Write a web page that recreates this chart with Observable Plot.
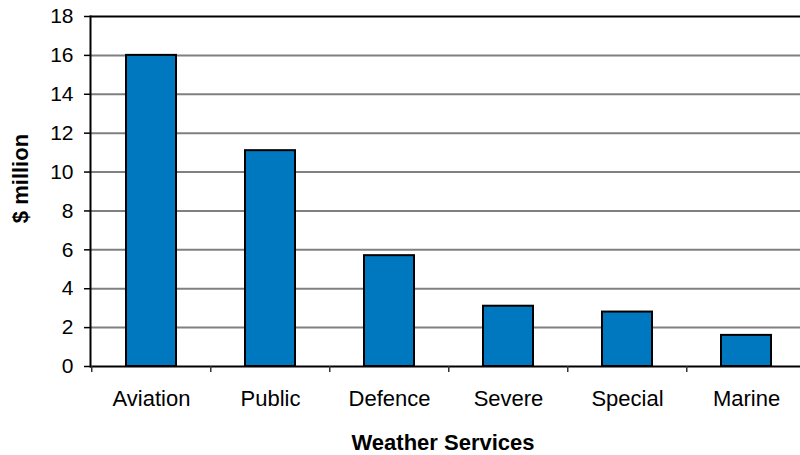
<!DOCTYPE html>
<html>
<head>
<meta charset="utf-8">
<script src="https://cdn.jsdelivr.net/npm/d3@7"></script>
<script src="https://cdn.jsdelivr.net/npm/@observablehq/plot@0.6"></script>
<style>
  html, body { margin: 0; padding: 0; background: #fff; }
</style>
</head>
<body>
<div id="chart"></div>
<script>
// Spending by weather service, in $ million
const services = ["Aviation", "Public", "Defence", "Severe", "Special", "Marine"];
const spending = [16.0, 11.1, 5.7, 3.1, 2.8, 1.6];
const yTicks = [0, 2, 4, 6, 8, 10, 12, 14, 16, 18];
const xTitle = "Weather Services";
const yTitle = "$ million";

const rows = services.map((service, i) => ({service, value: spending[i]}));

// Category bands run slightly past the right edge of the page
const xRange = [90, 807];
const step = (xRange[1] - xRange[0]) / services.length;
const font = "'Liberation Sans', Arial, Helvetica, sans-serif";

const chart = Plot.plot({
  width: 800,
  height: 455,
  marginLeft: 90,
  marginRight: 0,
  marginTop: 16,
  marginBottom: 89,
  style: {fontFamily: font, background: "#fff", color: "#000", overflow: "hidden"},
  x: {domain: services, range: xRange, paddingInner: 0.58, paddingOuter: 0.29},
  y: {domain: [0, 18]},
  marks: [
    // horizontal gridlines
    Plot.ruleY(yTicks.filter((d) => d > 0 && d < 18), {stroke: "#808080", strokeWidth: 2}),
    Plot.ruleY([18], {stroke: "#000", strokeWidth: 2}),
    // bars
    Plot.barY(rows, {x: "service", y: "value", fill: "#0078C0", stroke: "#000", strokeWidth: 2}),
    // axis lines
    Plot.ruleY([0], {stroke: "#000", strokeWidth: 2}),
    Plot.frame({anchor: "left", stroke: "#000", strokeWidth: 2}),
    // y axis ticks and labels
    Plot.axisY(yTicks, {tickSize: 6, tickPadding: 11, fontSize: 21, stroke: "#000", strokeWidth: 1.5, label: null}),
    // category separators below the baseline
    Plot.axisX({tickSize: 6, tickFormat: () => "", dx: -step / 2, stroke: "#333", strokeWidth: 1.5, label: null}),
    // category names
    Plot.axisX({tickSize: 0, tickPadding: 24, fontSize: 22, label: null}),
    // axis titles
    Plot.text([xTitle], {frameAnchor: "bottom", lineAnchor: "middle", textAnchor: "middle", dy: 76, dx: -2.5, fontSize: 22, fontWeight: "bold", fill: "#000"}),
    Plot.text([yTitle], {frameAnchor: "left", lineAnchor: "middle", textAnchor: "middle", rotate: -90, dx: -70, dy: -13, fontSize: 22, fontWeight: "bold", fill: "#000"})
  ]
});

document.getElementById("chart").appendChild(chart);
</script>
</body>
</html>
